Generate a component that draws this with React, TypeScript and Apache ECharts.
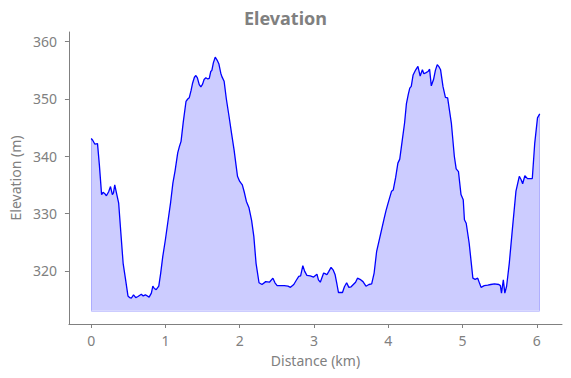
import React, { useEffect, useRef } from "react";
import * as echarts from "echarts";

const distanceKm: number[] = [
  0.0, 0.02, 0.05, 0.085, 0.11, 0.14, 0.16, 0.18, 0.205, 0.235, 0.26, 0.285, 0.3, 0.317, 0.34, 0.37, 0.4, 0.43,
  0.46, 0.495, 0.52, 0.54, 0.57, 0.6, 0.63, 0.675, 0.7, 0.73, 0.78, 0.81, 0.83, 0.85, 0.875, 0.91, 0.935, 0.964,
  1.0, 1.03, 1.07, 1.1, 1.13, 1.165, 1.19, 1.21, 1.24, 1.277, 1.3, 1.32, 1.345, 1.366, 1.39, 1.41, 1.43, 1.455,
  1.477, 1.5, 1.52, 1.544, 1.57, 1.59, 1.61, 1.625, 1.645, 1.67, 1.695, 1.72, 1.745, 1.76, 1.79, 1.82, 1.857,
  1.89, 1.924, 1.95, 1.97, 2.0, 2.035, 2.06, 2.09, 2.125, 2.16, 2.19, 2.22, 2.26, 2.3, 2.35, 2.4, 2.447, 2.475,
  2.504, 2.55, 2.6, 2.65, 2.683, 2.728, 2.76, 2.795, 2.82, 2.85, 2.875, 2.905, 2.95, 2.995, 3.04, 3.06, 3.085,
  3.13, 3.15, 3.174, 3.2, 3.23, 3.26, 3.285, 3.31, 3.33, 3.36, 3.384, 3.41, 3.44, 3.47, 3.5, 3.53, 3.56, 3.586,
  3.62, 3.66, 3.7, 3.74, 3.777, 3.81, 3.844, 3.89, 3.946, 3.97, 4.0, 4.045, 4.067, 4.1, 4.13, 4.155, 4.19, 4.22,
  4.245, 4.27, 4.29, 4.31, 4.335, 4.37, 4.4, 4.43, 4.46, 4.48, 4.51, 4.535, 4.557, 4.58, 4.61, 4.635, 4.66,
  4.685, 4.705, 4.737, 4.77, 4.8, 4.85, 4.89, 4.915, 4.946, 4.98, 5.01, 5.026, 5.05, 5.09, 5.14, 5.17, 5.205,
  5.23, 5.25, 5.293, 5.34, 5.38, 5.43, 5.49, 5.51, 5.525, 5.55, 5.57, 5.594, 5.63, 5.675, 5.72, 5.765, 5.79,
  5.81, 5.84, 5.875, 5.94, 5.973, 6.01, 6.04,
];

const elevationM: number[] = [
  343.1, 342.8, 342.1, 342.2, 338.5, 333.3, 333.7, 333.5, 333.1, 333.8, 334.7, 333.3, 333.6, 335.0, 333.6, 331.8,
  326.5, 321.3, 318.7, 315.6, 315.3, 315.2, 315.8, 315.3, 315.5, 315.9, 315.6, 315.8, 315.4, 316.1, 317.3, 316.9,
  316.7, 317.3, 319.5, 322.5, 325.5, 328.3, 332.0, 335.3, 337.5, 340.6, 341.8, 342.6, 346.0, 349.6, 350.0, 350.2,
  351.5, 352.8, 353.8, 354.1, 353.7, 352.5, 352.1, 352.6, 353.4, 353.7, 353.5, 353.6, 354.8, 355.0, 356.3, 357.3,
  356.8, 356.1, 354.5, 353.9, 353.1, 350.0, 346.9, 344.0, 341.1, 338.5, 336.5, 335.6, 335.0, 333.8, 332.1, 331.0,
  328.8, 326.0, 321.3, 317.9, 317.6, 318.1, 318.0, 318.7, 317.9, 317.4, 317.4, 317.4, 317.3, 317.1, 317.6, 318.3,
  319.0, 319.1, 320.9, 319.9, 319.2, 319.1, 318.9, 319.4, 318.4, 318.0, 319.6, 319.5, 319.3, 319.9, 320.6, 320.1,
  319.3, 317.6, 316.2, 316.2, 316.2, 317.2, 317.9, 317.1, 317.2, 317.6, 318.0, 318.7, 318.5, 318.1, 317.3, 317.6,
  317.7, 319.6, 323.4, 326.0, 329.2, 330.5, 331.9, 333.9, 334.1, 336.3, 338.8, 339.5, 342.9, 345.8, 349.2, 350.8,
  351.9, 352.2, 354.2, 355.1, 355.7, 354.0, 355.1, 354.4, 354.6, 354.8, 355.2, 352.3, 353.4, 355.0, 356.0, 355.6,
  355.1, 352.2, 350.3, 350.2, 345.8, 340.0, 337.8, 337.3, 333.3, 332.4, 328.9, 328.3, 324.8, 318.7, 318.5, 318.7,
  317.8, 317.1, 317.4, 317.5, 317.6, 317.7, 317.6, 317.4, 316.1, 318.4, 316.1, 317.3, 321.3, 327.7, 333.9, 336.5,
  335.9, 335.2, 336.6, 336.1, 336.1, 342.3, 346.7, 347.4,
];

const fillBaseline = 313;
const xTicks: number[] = [0, 1, 2, 3, 4, 5, 6];
const yTicks: number[] = [320, 330, 340, 350, 360];

const FONT = "'Noto Sans', sans-serif";
const GRAY = "#808080";

export default function App() {
  const ref = useRef<HTMLDivElement>(null);

  useEffect(() => {
    if (!ref.current) return;
    const chart = echarts.init(ref.current, undefined, { renderer: "svg" });
    const data = distanceKm.map((d, i) => [d, elevationM[i]]);
    const n = distanceKm.length;
    const x0 = distanceKm[0];
    const x1 = distanceKm[n - 1];
    chart.setOption({
      animation: false,
      backgroundColor: "#ffffff",
      title: {
        text: "Elevation",
        left: "center",
        top: 4,
        textStyle: { fontFamily: FONT, fontSize: 18, fontWeight: "bold", color: GRAY },
      },
      grid: { left: 66, right: 9, top: 32, bottom: 54, containLabel: false },
      xAxis: {
        type: "value",
        min: -0.3,
        max: 6.34,
        name: "Distance (km)",
        nameLocation: "middle",
        nameGap: 29,
        nameTextStyle: { fontFamily: FONT, fontSize: 14, color: GRAY, verticalAlign: "top" },
        axisLine: { show: true, onZero: false, lineStyle: { color: GRAY, width: 1 } },
        axisTick: { show: true, length: 4, lineStyle: { color: GRAY }, customValues: xTicks },
        axisLabel: { fontFamily: FONT, fontSize: 14, color: GRAY, margin: 9, customValues: xTicks },
        splitLine: { show: false },
      },
      yAxis: {
        type: "value",
        min: 310.7,
        max: 361.7,
        name: "Elevation (m)",
        nameLocation: "middle",
        nameGap: 42,
        nameTextStyle: { fontFamily: FONT, fontSize: 14, color: GRAY },
        axisLine: { show: true, onZero: false, lineStyle: { color: GRAY, width: 1 } },
        axisTick: { show: true, length: 4, lineStyle: { color: GRAY }, customValues: yTicks },
        axisLabel: { fontFamily: FONT, fontSize: 14, color: GRAY, margin: 12, customValues: yTicks },
        splitLine: { show: false },
      },
      series: [
        {
          type: "line",
          data,
          symbol: "none",
          lineStyle: { color: "#0000ff", width: 1.3 },
          areaStyle: { color: "rgba(0,0,255,0.2)", opacity: 1, origin: fillBaseline },
          z: 3,
          markLine: {
            silent: true,
            symbol: "none",
            label: { show: false },
            lineStyle: { color: "rgba(0,0,255,0.2)", width: 1, type: "solid" },
            data: [
              [{ coord: [x0, elevationM[0]] }, { coord: [x0, fillBaseline] }],
              [{ coord: [x0, fillBaseline] }, { coord: [x1, fillBaseline] }],
              [{ coord: [x1, fillBaseline] }, { coord: [x1, elevationM[n - 1]] }],
            ],
          },
        },
      ],
    });
    return () => chart.dispose();
  }, []);

  return (
    <div
      ref={ref}
      style={{ position: "fixed", left: 0, top: 0, width: 571, height: 378 }}
    />
  );
}
